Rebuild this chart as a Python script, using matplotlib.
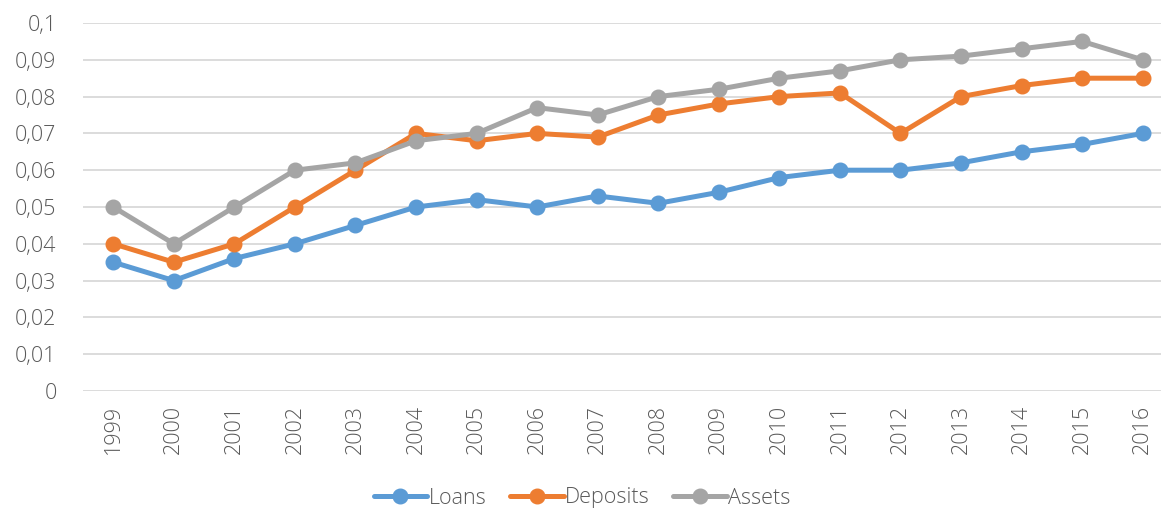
import matplotlib.pyplot as plt
from matplotlib.ticker import FuncFormatter

years = [str(y) for y in range(1999, 2017)]
loans = [0.035, 0.030, 0.036, 0.040, 0.045, 0.050, 0.052, 0.050, 0.053,
         0.051, 0.054, 0.058, 0.060, 0.060, 0.062, 0.065, 0.067, 0.070]
deposits = [0.040, 0.035, 0.040, 0.050, 0.060, 0.070, 0.068, 0.070, 0.069,
            0.075, 0.078, 0.080, 0.081, 0.070, 0.080, 0.083, 0.085, 0.085]
assets = [0.050, 0.040, 0.050, 0.060, 0.062, 0.068, 0.070, 0.077, 0.075,
          0.080, 0.082, 0.085, 0.087, 0.090, 0.091, 0.093, 0.095, 0.090]
y_ticks = [0, 0.01, 0.02, 0.03, 0.04, 0.05, 0.06, 0.07, 0.08, 0.09, 0.1]

plt.rcParams['font.family'] = ['Open Sans', 'DejaVu Sans']
plt.rcParams['font.weight'] = 'light'
text_col = '#595959'

fig = plt.figure(figsize=(11.61, 5.12), dpi=100)
ax = fig.add_axes([83 / 1161, 1 - 391 / 512, 1090 / 1161, 368 / 512])

x = range(len(years))
series = [("Loans", loans, '#5B9BD5'),
          ("Deposits", deposits, '#ED7D31'),
          ("Assets", assets, '#A5A5A5')]
for name, vals, col in series:
    ax.plot(x, vals, color=col, linewidth=3.6, marker='o', markersize=10.5,
            label=name, solid_capstyle='round', zorder=3)

ax.set_xlim(-0.5, len(years) - 0.5)
ax.set_ylim(0, 0.1)
ax.set_yticks(y_ticks)
ax.yaxis.set_major_formatter(FuncFormatter(lambda v, p: f"{v:g}".replace('.', ',')))
ax.set_xticks(list(x))
ax.set_xticklabels(years, rotation=90)
ax.grid(axis='y', color='#D9D9D9', linewidth=1.3)
ax.set_axisbelow(True)
for s in ax.spines.values():
    s.set_visible(False)
ax.tick_params(length=0, colors=text_col, labelsize=15.5)
ax.tick_params(axis='y', pad=19)
ax.tick_params(axis='x', pad=10)

# legend sits at the very bottom edge, as in the source image
ax.legend(loc='center', bbox_to_anchor=(582 / 1161, 1 - 498 / 512),
          bbox_transform=fig.transFigure, ncol=3, frameon=False,
          fontsize=15.5, labelcolor=text_col, handlelength=2.5,
          handletextpad=0.05, columnspacing=1.1, borderpad=0.2)

fig.savefig("out.png", dpi=100)
